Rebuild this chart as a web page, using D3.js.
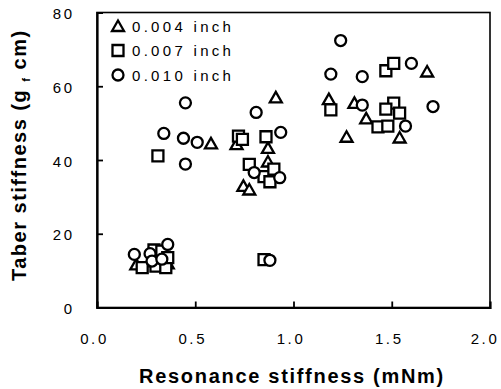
<!DOCTYPE html>
<html>
<head>
<meta charset="utf-8">
<script src="https://cdn.jsdelivr.net/npm/d3@7"></script>
<style>
  html, body { margin: 0; padding: 0; background: #fff; overflow: hidden; }
  svg { display: block; }
  text { font-family: Arial, "Liberation Sans", sans-serif; fill: #000; }
</style>
</head>
<body>
<div id="chart"></div>
<script>
// sample thickness series: [resonance stiffness mNm, Taber stiffness gf cm]
const series004 = [
    [0.20, 11.7], [0.29, 12.5], [0.36, 12.0],
    [0.58, 44.5], [0.71, 44.3], [0.745, 33.0], [0.775, 32.0], [0.87, 39.6], [0.87, 43.3], [0.91, 57.0],
    [1.18, 56.5], [1.27, 46.3], [1.31, 55.5], [1.37, 51.3], [1.54, 46.1], [1.68, 64.0]
];
const series007 = [
    [0.29, 15.6], [0.33, 15.3], [0.23, 10.8], [0.30, 11.2], [0.35, 10.8], [0.36, 13.5],
    [0.31, 41.1], [0.72, 46.5], [0.74, 45.6], [0.775, 38.8], [0.86, 46.3], [0.85, 35.5], [0.90, 37.5], [0.88, 34.1], [0.85, 13.0],
    [1.19, 53.6], [1.47, 64.2], [1.51, 66.2], [1.51, 55.4], [1.47, 53.8], [1.54, 52.7], [1.43, 49.0], [1.48, 49.2]
];
const series010 = [
    [0.19, 14.4], [0.27, 14.6], [0.28, 12.6], [0.33, 13.1], [0.36, 17.1],
    [0.34, 47.2], [0.45, 55.5], [0.44, 45.9], [0.51, 44.8], [0.45, 38.9],
    [0.81, 52.9], [0.935, 47.5], [0.80, 36.6], [0.93, 35.2], [0.88, 12.8],
    [1.24, 72.4], [1.19, 63.3], [1.35, 62.6], [1.60, 66.2], [1.35, 54.9], [1.57, 49.2], [1.71, 54.5]
];
const legendLabels = ['0.004 inch', '0.007 inch', '0.010 inch'];
const xTicks = [0, 0.5, 1.0, 1.5, 2.0];
const yTicks = [0, 20, 40, 60, 80];

const width = 501;
const height = 389;
const margin = { top: 12.5, right: 11, bottom: 81.5, left: 97 };
const innerWidth = width - margin.left - margin.right;
const innerHeight = height - margin.top - margin.bottom;

// scales in page coordinates so the labels need no group transforms
const xScale = d3.scaleLinear().domain([0, 2]).range([margin.left, margin.left + innerWidth]);
const yScale = d3.scaleLinear().domain([0, 80]).range([margin.top + innerHeight, margin.top]);

// marker shapes, centred on 0,0
const triPath = 'M0,-5.5L6,5L-6,5Z';
const sqPath = 'M-5.5,-5.5H5.5V5.5H-5.5Z';
const circPath = 'M5.5,0A5.5,5.5 0 1,1 -5.5,0A5.5,5.5 0 1,1 5.5,0Z';
const shapes = [triPath, sqPath, circPath];

const svg = d3.select('#chart')
    .append('svg')
    .attr('width', width)
    .attr('height', height);

// frame
svg.append('rect')
    .attr('x', margin.left)
    .attr('y', margin.top)
    .attr('width', innerWidth)
    .attr('height', innerHeight)
    .attr('fill', 'none')
    .attr('stroke', '#000')
    .attr('stroke-width', 1.6);

// x axis, ticks pointing inward, labels drawn separately
const xAxis = svg.append('g')
    .attr('transform', `translate(0,${margin.top + innerHeight})`)
    .call(d3.axisBottom(xScale).tickValues(xTicks).tickFormat('').tickSize(-6));
xAxis.select('.domain').attr('stroke-width', 2.2);
xAxis.selectAll('.tick line').attr('stroke-width', 1.8)
    .attr('display', d => (d === 0 || d === 2) ? 'none' : null);
xAxis.selectAll('.tick text').remove();

const yAxis = svg.append('g')
    .attr('transform', `translate(${margin.left},0)`)
    .call(d3.axisLeft(yScale).tickValues(yTicks).tickFormat('').tickSize(-6));
yAxis.select('.domain').attr('stroke-width', 2.2);
yAxis.selectAll('.tick line').attr('stroke-width', 1.8)
    .attr('display', d => (d === 0 || d === 80) ? 'none' : null);
yAxis.selectAll('.tick text').remove();
svg.selectAll('.domain').attr('stroke', '#000');

svg.selectAll('.xlab')
    .data(xTicks)
    .join('text')
    .attr('class', 'xlab')
    .attr('x', d => xScale(d) + (d === 2 ? -5 : -2.5))
    .attr('y', 344)
    .attr('text-anchor', 'middle')
    .style('font-size', '15px')
    .style('letter-spacing', '2.6px')
    .text(d3.format('.1f'));

svg.selectAll('.ylab')
    .data(yTicks)
    .join('text')
    .attr('class', 'ylab')
    .attr('x', 74.5)
    .attr('y', d => yScale(d) + 6.5)
    .attr('text-anchor', 'end')
    .style('font-size', '15px')
    .style('letter-spacing', '2.5px')
    .text(d => d);

// points
[series004, series007, series010].forEach((s, i) => {
    svg.selectAll(`.pt${i}`)
        .data(s)
        .join('path')
        .attr('class', `pt${i}`)
        .attr('d', shapes[i])
        .attr('transform', d => `translate(${xScale(d[0])},${yScale(d[1])})`)
        .attr('fill', '#fff')
        .attr('stroke', '#000')
        .attr('stroke-width', 2.3);
});

// legend
legendLabels.forEach((label, i) => {
    const cy = margin.top + 13.5 + i * 24.5;
    svg.append('path')
        .attr('d', shapes[i])
        .attr('transform', `translate(${margin.left + 21},${cy})`)
        .attr('fill', '#fff')
        .attr('stroke', '#000')
        .attr('stroke-width', 2.3);
    svg.append('text')
        .attr('x', margin.left + 35)
        .attr('y', cy + 5.5)
        .style('font-size', '15px')
        .style('letter-spacing', '3.3px')
        .text(label);
});

// axis titles
svg.append('text')
    .attr('x', 292)
    .attr('y', 383)
    .attr('text-anchor', 'middle')
    .style('font-size', '20px')
    .style('font-weight', 'bold')
    .style('letter-spacing', '1.7px')
    .text('Resonance stiffness (mNm)');

const yTitle = svg.append('text')
    .attr('transform', 'translate(8,281) rotate(-90)')
    .attr('x', 0)
    .attr('y', 18)
    .style('font-size', '20px')
    .style('font-weight', 'bold')
    .style('letter-spacing', '1.5px');
yTitle.append('tspan').text('Taber stiffness (g ');
yTitle.append('tspan').attr('dy', 4).style('font-size', '11px').text('f');
yTitle.append('tspan').attr('dy', -4).text(' cm)');
</script>
</body>
</html>
